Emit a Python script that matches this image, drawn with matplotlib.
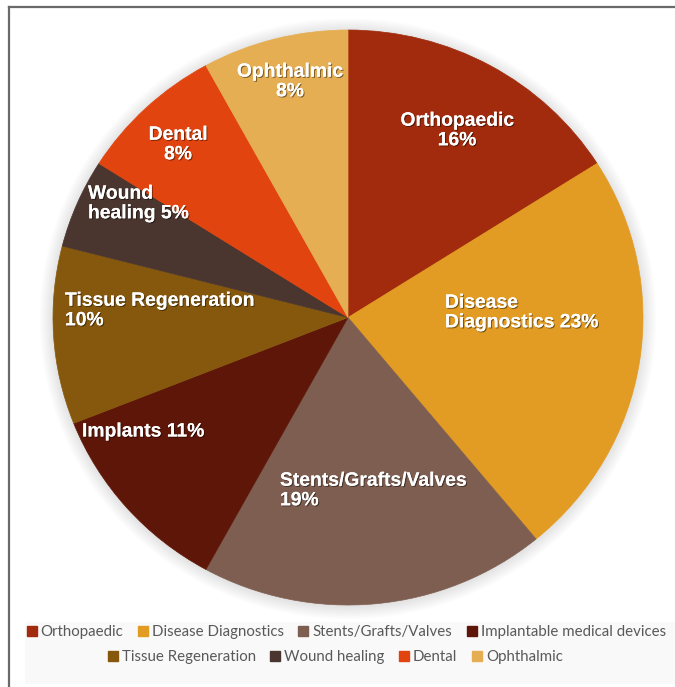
import matplotlib
matplotlib.use("Agg")
import matplotlib.pyplot as plt
import matplotlib.patheffects as pe
from matplotlib.patches import Ellipse, Rectangle
from matplotlib.lines import Line2D
import numpy as np

categories = ["Orthopaedic", "Disease Diagnostics", "Stents/Grafts/Valves",
              "Implantable medical devices", "Tissue Regeneration",
              "Wound healing", "Dental", "Ophthalmic"]
values = [16, 23, 19, 11, 10, 5, 8, 8]
slice_labels = ["Orthopaedic\n16%", "Disease\nDiagnostics 23%", "Stents/Grafts/Valves\n19%",
                "Implants 11%", "Tissue Regeneration\n10%", "Wound\nhealing 5%",
                "Dental\n8%", "Ophthalmic\n8%"]
colors = ["#A12B0C", "#E29B23", "#7E5E50", "#5D1607", "#86580E",
          "#4A362E", "#E2440F", "#E6AE52"]

W, H = 675, 687
fig = plt.figure(figsize=(W / 100, H / 100), dpi=100)
fig.patch.set_facecolor("white")

# pie axes: pixel box
cx, cy, rx, ry = 348, 317.5, 295, 287.5
ax = fig.add_axes([(cx - rx) / W, (H - (cy + ry)) / H, 2 * rx / W, 2 * ry / H])

# soft shadow
for k in range(10):
    e = Ellipse((0, -0.004), 2 * (1 + 0.005 * k), 2 * (1 + 0.005 * k),
                facecolor="black", alpha=0.010, edgecolor="none", zorder=0)
    e.set_clip_on(False)
    ax.add_patch(e)

wedges, _ = ax.pie(values, colors=colors, startangle=90, counterclock=False,
                   radius=1, wedgeprops=dict(linewidth=0))
for w, c in zip(wedges, colors):
    w.set_edgecolor(c)
    w.set_linewidth(0.5)
    w.set_zorder(1)
ax.set_aspect("auto")
ax.set_xlim(-1, 1)
ax.set_ylim(-1, 1)
ax.axis("off")

# label positions in pixel coords (x, y, ha)
label_pos = [(457, 131, "center"), (445, 313, "left"), (280, 491, "left"),
             (82, 432, "left"), (65, 311, "left"), (88, 204, "left"),
             (178, 145, "center"), (290, 82, "center")]
shadow = [pe.withSimplePatchShadow(offset=(0.8, -0.8), shadow_rgbFace="black", alpha=0.45),
          pe.Normal()]
for lab, (px, py, ha) in zip(slice_labels, label_pos):
    ax.text((px - cx) / rx, (cy - py) / ry, lab, ha=ha, va="center",
            fontsize=13.9, fontweight="bold", color="white",
            family=["Liberation Sans", "DejaVu Sans"], linespacing=1.2,
            multialignment=ha, path_effects=shadow, zorder=5)

# legend background
fig.patches.append(Rectangle((25 / W, (H - 684) / H), 650 / W, 62 / H,
                             transform=fig.transFigure, facecolor="#f9f9f9",
                             edgecolor="none", zorder=0))

handles = [Line2D([0], [0], marker="s", linestyle="none", markersize=7.5,
                  markerfacecolor=c, markeredgecolor=c) for c in colors]
common = dict(frameon=False, ncol=4, handletextpad=0.1, columnspacing=0.8,
              borderpad=0, handlelength=1.0,
              prop={"family": ["Lato", "DejaVu Sans"], "size": 10.8})
leg1 = fig.legend(handles[:4], categories[:4], loc="center",
                  bbox_to_anchor=(345 / W, (H - 632) / H), **common)
leg2 = fig.legend(handles[4:], categories[4:], loc="center",
                  bbox_to_anchor=(334 / W, (H - 657) / H), **common)
for leg in (leg1, leg2):
    for t in leg.get_texts():
        t.set_color("#595959")

# frame border (top and left visible)
fig.add_artist(Line2D([8.5 / W, 1.0], [(H - 6.5) / H, (H - 6.5) / H],
                      transform=fig.transFigure, color="#6a6a6a", linewidth=1.6))
fig.add_artist(Line2D([8.5 / W, 8.5 / W], [0.0, (H - 6.5) / H],
                      transform=fig.transFigure, color="#6a6a6a", linewidth=1.6))

fig.savefig("out.png", dpi=100)
